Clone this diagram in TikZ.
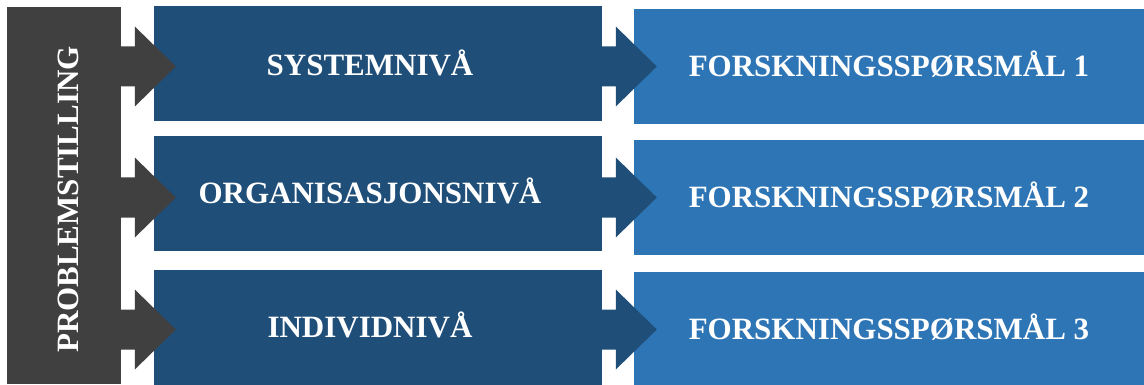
\documentclass[tikz,border=0pt]{standalone}
\usepackage{fontspec}
\setmainfont{Liberation Serif}
\usepackage{tikz}
\usetikzlibrary{positioning, calc}

\definecolor{barGray}{HTML}{404040}
\definecolor{levelBlue}{HTML}{1F4E79}
\definecolor{questionBlue}{HTML}{2E75B6}

\begin{document}
\begin{tikzpicture}[x=1pt, y=-1pt]
        \tikzset{
            block/.style={
                    rectangle, inner sep=0pt, text=white,
                    font=\fontsize{31}{31}\selectfont\bfseries,
                    text height=20.5pt, text depth=0pt
                },
            level box/.style={
                    block, fill=levelBlue, minimum width=448pt, minimum height=115pt
                },
            question box/.style={
                    block, fill=questionBlue, minimum width=510pt, minimum height=115pt
                },
            level label/.style={
                    font=\fontsize{31}{31}\selectfont\bfseries, text=white,
                    text height=20.5pt, text depth=0pt, inner sep=0pt
                }
        }
        \useasboundingbox (0,0) rectangle (1144,385);

        % problem bar
        \node[block, fill=barGray, minimum width=114pt, minimum height=377pt] (problem) at (64,195.5) {};
        \node[level label, rotate=90] (problemtext) at ($(problem.center)+(4,4)$) {PROBLEMSTILLING};

        % levels
        \node[level box, label={[level label, xshift=-8pt, yshift=-1.5pt]center:SYSTEMNIVÅ}] (sys) at (378,64) {};
        \node[level box, label={[level label, xshift=-8pt]center:ORGANISASJONSNIVÅ}] (org) at (378,193.5) {};
        \node[level box, label={[level label, xshift=-8pt]center:INDIVIDNIVÅ}] (ind) at (378,327.5) {};

        % research questions
        \node[question box] (fq1) at (889,66.5) {FORSKNINGSSPØRSMÅL 1};
        \node[question box] (fq2) at (889,197.5) {FORSKNINGSSPØRSMÅL 2};
        \node[question box] (fq3) at (889,329.5) {FORSKNINGSSPØRSMÅL 3};

        % block arrows
        \foreach \lv/\fq in {sys/fq1, org/fq2, ind/fq3} {
                \fill[barGray] ($(problem.east |- \fq.center)+(-1,-20)$) -- ($(\lv.west |- \fq.center)+(-19,-20)$)
                    -- ($(\lv.west |- \fq.center)+(-19,-40)$) -- ($(\lv.west |- \fq.center)+(22,0)$)
                    -- ($(\lv.west |- \fq.center)+(-19,40)$) -- ($(\lv.west |- \fq.center)+(-19,20)$)
                    -- ($(problem.east |- \fq.center)+(-1,20)$) -- cycle;
                \fill[levelBlue] ($(\lv.east |- \fq.center)+(-1,-20)$) -- ($(\fq.west)+(-18,-20)$)
                    -- ($(\fq.west)+(-18,-40)$) -- ($(\fq.west)+(23,0)$)
                    -- ($(\fq.west)+(-18,40)$) -- ($(\fq.west)+(-18,20)$)
                    -- ($(\lv.east |- \fq.center)+(-1,20)$) -- cycle;
            }
    \end{tikzpicture}
\end{document}
